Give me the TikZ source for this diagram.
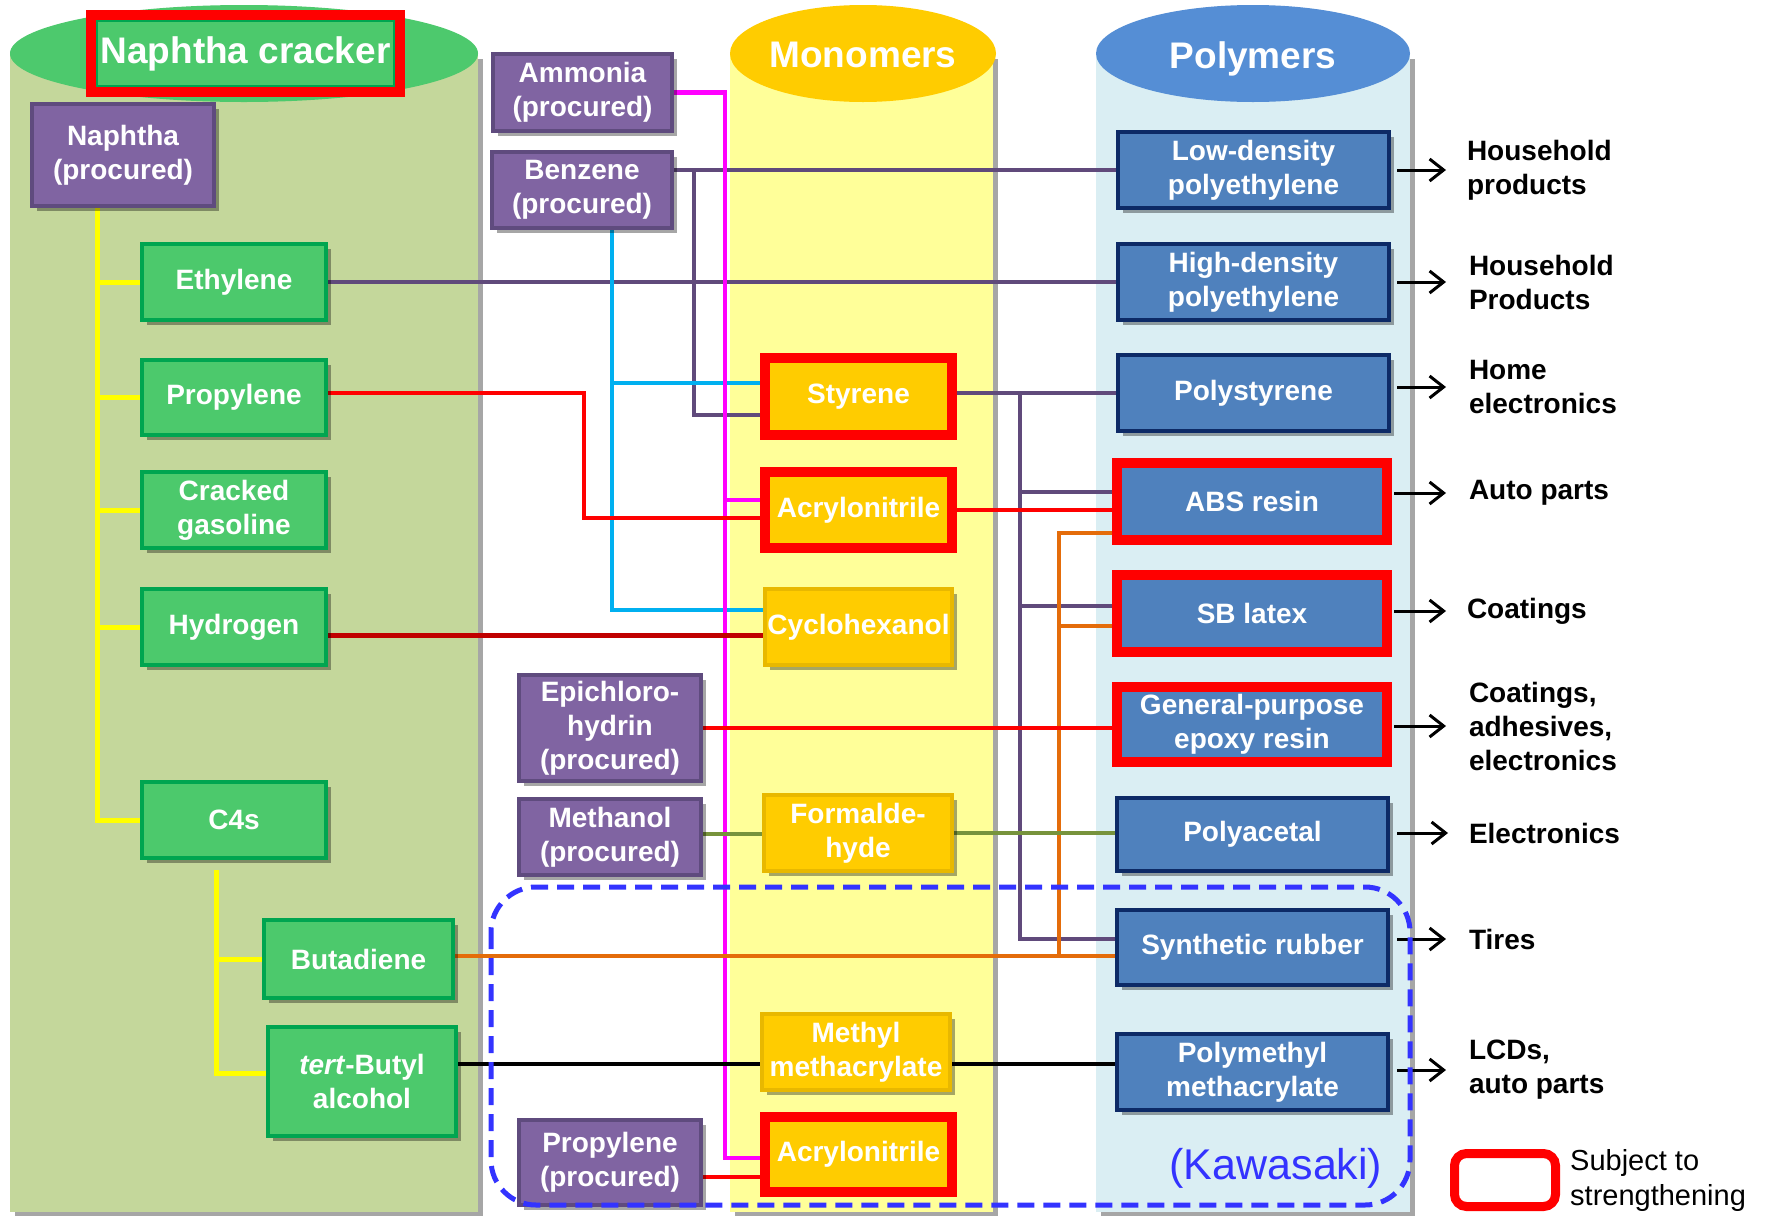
\documentclass[tikz,border=0pt]{standalone}
\usepackage{fontspec}
\setmainfont{Liberation Sans}
\usetikzlibrary{shadows,arrows.meta,calc}
\definecolor{gboxc}{HTML}{4CC96C}
\definecolor{gboxd}{HTML}{00A550}
\definecolor{pboxc}{HTML}{8064A2}
\definecolor{pboxd}{HTML}{5F4B7E}
\definecolor{yboxc}{HTML}{FFCC00}
\definecolor{yboxd}{HTML}{E8B800}
\definecolor{bboxc}{HTML}{4F81BD}
\definecolor{bboxd}{HTML}{0D2A66}
\definecolor{cylg}{HTML}{C4D79B}
\definecolor{cyly}{HTML}{FFFF99}
\definecolor{cylb}{HTML}{DAEEF3}
\definecolor{elg}{HTML}{4DC96D}
\definecolor{ely}{HTML}{FFCC00}
\definecolor{elb}{HTML}{558ED5}
\definecolor{lpur}{HTML}{604A7B}
\definecolor{lcyan}{HTML}{00B0F0}
\definecolor{lmag}{HTML}{FF00FF}
\definecolor{ldred}{HTML}{C00000}
\definecolor{lorange}{HTML}{E46C0A}
\definecolor{lolive}{HTML}{77933C}
\definecolor{lyel}{HTML}{FFFF00}
\definecolor{kblue}{HTML}{3333FF}
\pgfdeclarelayer{cyl}
\pgfdeclarelayer{conn}
\pgfsetlayers{cyl,conn,main}
\newcommand\bxf{\fontsize{28pt}{34pt}\selectfont\bfseries}
\newcommand\hdf{\fontsize{37pt}{42pt}\selectfont\bfseries}
\newcommand\lgf{\fontsize{29pt}{35pt}\selectfont}
\newcommand\kwf{\fontsize{43pt}{47pt}\selectfont}
\tikzset{
 box/.style={rectangle, inner sep=0pt, outer sep=0pt, align=center, text=white, font=\bxf,
   drop shadow={shadow xshift=5pt, shadow yshift=-5pt, fill=black, opacity=0.35}},
 gb/.style={box, fill=gboxc, draw=gboxd, line width=4pt},
 pb/.style={box, fill=pboxc, draw=pboxd, line width=4pt},
 yb/.style={box, fill=yboxc, draw=yboxd, line width=4pt},
 bb/.style={box, fill=bboxc, draw=bboxd, line width=4pt},
 hot/.style={draw=red, line width=10pt},
 sz/.style 2 args={minimum width=#1pt, minimum height=#2pt},
 cpur/.style={draw=lpur, line width=4.5pt},
 ccyan/.style={draw=lcyan, line width=4.5pt},
 cmag/.style={draw=lmag, line width=4.5pt},
 cred/.style={draw=red, line width=4.5pt},
 cdred/.style={draw=ldred, line width=5pt},
 corange/.style={draw=lorange, line width=4.5pt},
 colive/.style={draw=lolive, line width=4.5pt},
 cblack/.style={draw=black, line width=4.5pt},
 cyel/.style={draw=lyel, line width=5pt},
 lab/.style={anchor=west, inner sep=0pt, outer sep=0pt, align=left, font=\bxf, text=black},
 arr/.style={draw=black, line width=3pt, -{Straight Barb[length=14pt,width=22pt]}},
 hdr/.style={text=white, font=\hdf, inner sep=0pt},
}
\begin{document}
\begin{tikzpicture}[x=1pt,y=-1pt]
\useasboundingbox (0,0) rectangle (1765,1216);

% cylinders
\begin{pgfonlayer}{cyl}
\fill[white] (0,0) rectangle (1765,1216);
\fill[black!35] (15,59) rectangle (483,1216);
\fill[cylg] (10,54) rectangle (478,1212);
\fill[elg] (244,53.5) ellipse [x radius=234, y radius=48.5];
\fill[black!35] (735,59) rectangle (998,1216);
\fill[cyly] (730,54) rectangle (993,1212);
\fill[ely] (863,53.5) ellipse [x radius=133, y radius=48.5];
\fill[black!35] (1101,59) rectangle (1415,1216);
\fill[cylb] (1096,54) rectangle (1410,1212);
\fill[elb] (1253,53.5) ellipse [x radius=157, y radius=48.5];
\end{pgfonlayer}

\node[hdr, anchor=base] (hmono) at (863,67) {Monomers};
\node[hdr, anchor=base] (hpoly) at (1253,68) {Polymers};

% naphtha cracker column
\node[box, fill=gboxc, hot, sz={309}{77}, font=\hdf] (nc) at (245.5,53.5) {Naphtha cracker};
\draw[gboxd, line width=2pt] ([xshift=6pt,yshift=-6pt]nc.north west) rectangle ([xshift=-6pt,yshift=6pt]nc.south east);
\node[pb, sz={182}{102}] (naph) at (123,155) {Naphtha\\(procured)};
\node[gb, sz={184}{76}] (eth) at (234,282) {Ethylene};
\node[gb, sz={184}{75}] (prop) at (234,397.5) {Propylene};
\node[gb, sz={184}{76}] (crack) at (234,510) {Cracked\\gasoline};
\node[gb, sz={184}{76}] (hyd) at (234,627) {Hydrogen};
\node[gb, sz={184}{76}] (c4) at (234,820) {C4s};
\node[gb, sz={189}{78}] (buta) at (358.5,959) {Butadiene};
\node[gb, sz={188}{109}] (tert) at (362,1081.5) {\textit{tert}-Butyl\\alcohol};

% procured
\node[pb, sz={179}{77}] (amm) at (582.5,92.5) {Ammonia\\(procured)};
\node[pb, sz={180}{76}] (benz) at (582,190) {Benzene\\(procured)};
\node[pb, sz={182}{106}] (epi) at (610,728) {Epichloro-\\hydrin\\(procured)};
\node[pb, sz={182}{76}] (meth) at (610,837) {Methanol\\(procured)};
\node[pb, sz={182}{85}] (propp) at (610,1162.5) {Propylene\\(procured)};

% monomers
\node[yb, hot, sz={187}{77}] (sty) at (858.5,396.5) {Styrene};
\node[yb, hot, sz={187}{76}] (acr) at (858.5,510) {Acrylonitrile};
\node[yb, sz={187}{76}] (cyc) at (858.5,627) {Cyclohexanol};
\node[yb, sz={188}{76}] (form) at (858,833) {Formalde-\\hyde};
\node[yb, sz={188}{76}] (mma) at (856,1052) {Methyl\\methacrylate};
\node[yb, hot, sz={187}{75}] (acr2) at (858.5,1154.5) {Acrylonitrile};

% polymers
\node[bb, sz={271}{76}] (ldpe) at (1253.5,170) {Low-density\\polyethylene};
\node[bb, sz={271}{76}] (hdpe) at (1253.5,282) {High-density\\polyethylene};
\node[bb, sz={271}{76}] (ps) at (1253.5,393) {Polystyrene};
\node[bb, hot, sz={270}{77}] (abs) at (1252,501.5) {ABS resin};
\node[bb, hot, sz={270}{77}] (sb) at (1252,613.5) {SB latex};
\node[bb, hot, sz={270}{75}] (epoxy) at (1252,724.5) {General-purpose\\epoxy resin};
\node[bb, sz={271}{73}] (pa) at (1252.5,834.5) {Polyacetal};
\node[bb, sz={271}{75}] (sr) at (1252.5,947.5) {Synthetic rubber};
\node[bb, sz={271}{76}] (pmma) at (1252.5,1072) {Polymethyl\\methacrylate};

% end uses
\node[lab] (l1) at (1467,170) {Household\\products};
\node[lab] (l2) at (1469,282) {Household\\Products};
\node[lab] (l3) at (1469,387) {Home\\electronics};
\node[lab] (l4) at (1469,493) {Auto parts};
\node[lab] (l5) at (1467,611) {Coatings};
\node[lab] (l6) at (1469,726) {Coatings,\\adhesives,\\electronics};
\node[lab] (l7) at (1469,833) {Electronics};
\node[lab] (l8) at (1469,939) {Tires};
\node[lab] (l9) at (1469,1070) {LCDs,\\auto parts};

\draw[arr] ($(ldpe.east |- l1.west)+(8,0)$) -- ($(l1.west)+(-21,0)$);
\draw[arr] ($(hdpe.east |- l2.west)+(8,0)$) -- ($(l2.west)+(-23,0)$);
\draw[arr] ($(ps.east |- l3.west)+(8,0)$) -- ($(l3.west)+(-23,0)$);
\draw[arr] ($(abs.east |- l4.west)+(7,0)$) -- ($(l4.west)+(-23,0)$);
\draw[arr] ($(sb.east |- l5.west)+(7,0)$) -- ($(l5.west)+(-21,0)$);
\draw[arr] ($(epoxy.east |- l6.west)+(7,0)$) -- ($(l6.west)+(-23,0)$);
\draw[arr] ($(pa.east |- l7.west)+(9,0)$) -- ($(l7.west)+(-21,0)$);
\draw[arr] ($(sr.east |- l8.west)+(9,0)$) -- ($(l8.west)+(-23,0)$);
\draw[arr] ($(pmma.east |- l9.west)+(9,0)$) -- ($(l9.west)+(-23,0)$);

% connectors
\begin{pgfonlayer}{conn}
\coordinate (t1) at ($(naph.south)+(-26,0)$);
\draw[cyel] (t1) |- (c4.west);
\draw[cyel] (eth.west -| t1) -- (eth.west);
\draw[cyel] (prop.west -| t1) -- (prop.west);
\draw[cyel] (crack.west -| t1) -- (crack.west);
\draw[cyel] (hyd.west -| t1) -- (hyd.west);
\coordinate (t2) at ($(c4.south)+(-18,12)$);
\coordinate (tw) at ($(tert.west)+(0,-8.5)$);
\draw[cyel] (t2) |- (tw);
\draw[cyel] (buta.west -| t2) -- (buta.west);

% benzene
\draw[cpur] (benz.east |- ldpe.west) -- (ldpe.west);
\coordinate (bz1) at ($(benz.east |- ldpe.west)+(22,0)$);
\coordinate (sW) at ($(sty.west)+(0,18.5)$);
\draw[cpur] (bz1) |- (sW);
\draw[cpur] (eth.east) -- (hdpe.west);

\coordinate (cy0) at ($(benz.south)+(30,0)$);
\coordinate (cW) at ($(cyc.west)+(0,-17)$);
\draw[ccyan] (cy0) |- (cW);
\coordinate (cyS) at ($(sty.west)+(0,-13.5)$);
\draw[ccyan] (cyS -| cy0) -- (cyS);

% ammonia
\coordinate (m1) at ($(acr2.west)+(-40,3.5)$);
\coordinate (mE) at ($(acr2.west)+(0,3.5)$);
\draw[cmag] (amm.east) -| (m1) -- (mE);
\coordinate (mA) at ($(acr.west)+(0,-10)$);
\draw[cmag] (mA -| m1) -- (mA);

% propylene
\coordinate (pS) at ($(prop.east)+(0,-4.5)$);
\coordinate (r1) at ($(acr.west)+(-181,8)$);
\coordinate (rE) at ($(acr.west)+(0,8)$);
\draw[cred] (pS) -| (r1) -- (rE);

% hydrogen
\coordinate (hS) at ($(hyd.east)+(0,8)$);
\draw[cdred] (hS) -- (hS -| cyc.west);

% styrene
\coordinate (stE) at ($(sty.east)+(0,-3.5)$);
\draw[cpur] (stE) -- (stE -| ps.west);
\coordinate (s1) at ($(ps.west)+(-98,0)$);
\coordinate (srP) at ($(sr.west)+(0,-8.5)$);
\draw[cpur] (s1) |- (srP);
\coordinate (abP) at ($(abs.west)+(0,-9.5)$);
\draw[cpur] (abP -| s1) -- (abP);
\coordinate (sbP) at ($(sb.west)+(0,-7.5)$);
\draw[cpur] (sbP -| s1) -- (sbP);

% acrylonitrile
\draw[cred] (acr.east) -- (acr.east -| abs.west);

% butadiene
\coordinate (bA) at ($(buta.east)+(0,-3)$);
\draw[corange] (bA) -- (bA -| sr.west);
\coordinate (o1) at ($(bA -| s1)+(39,0)$);
\coordinate (abO) at ($(abs.west)+(0,31.5)$);
\draw[corange] (o1) |- (abO);
\coordinate (sbO) at ($(sb.west)+(0,12.5)$);
\draw[corange] (sbO -| o1) -- (sbO);

% epichlorohydrin
\draw[cred] (epi.east) -- (epi.east -| epoxy.west);

% methanol
\coordinate (mt) at ($(meth.east)+(0,-3)$);
\draw[colive] (mt) -- (mt -| form.west);
\draw[colive] (form.east) -- (form.east -| pa.west);

% tert-butyl alcohol
\coordinate (tb) at ($(tert.east)+(0,-17.5)$);
\draw[cblack] (tb) -- (tb -| mma.west);
\coordinate (mb) at ($(mma.east)+(0,12)$);
\draw[cblack] (mb) -- (mb -| pmma.west);

% propylene (procured)
\coordinate (pp) at ($(propp.east)+(0,14.5)$);
\draw[cred] (pp) -- (pp -| acr2.west);
\end{pgfonlayer}

% Kawasaki dashed region
\draw[kblue, line width=5pt, dash pattern=on 17pt off 9pt, rounded corners=45pt] (491,887) rectangle (1410,1205);
\node[text=kblue, font=\kwf, inner sep=0pt] (kaw) at (1276,1168) {(Kawasaki)};

% legend
\node[draw=red, line width=9pt, rounded corners=12pt, inner sep=0pt, minimum width=101pt, minimum height=53pt] (leg) at (1505,1180) {};
\node[anchor=west, inner sep=0pt, align=left, font=\lgf] (legt) at (1570,1180) {Subject to\\strengthening};
\end{tikzpicture}
\end{document}
